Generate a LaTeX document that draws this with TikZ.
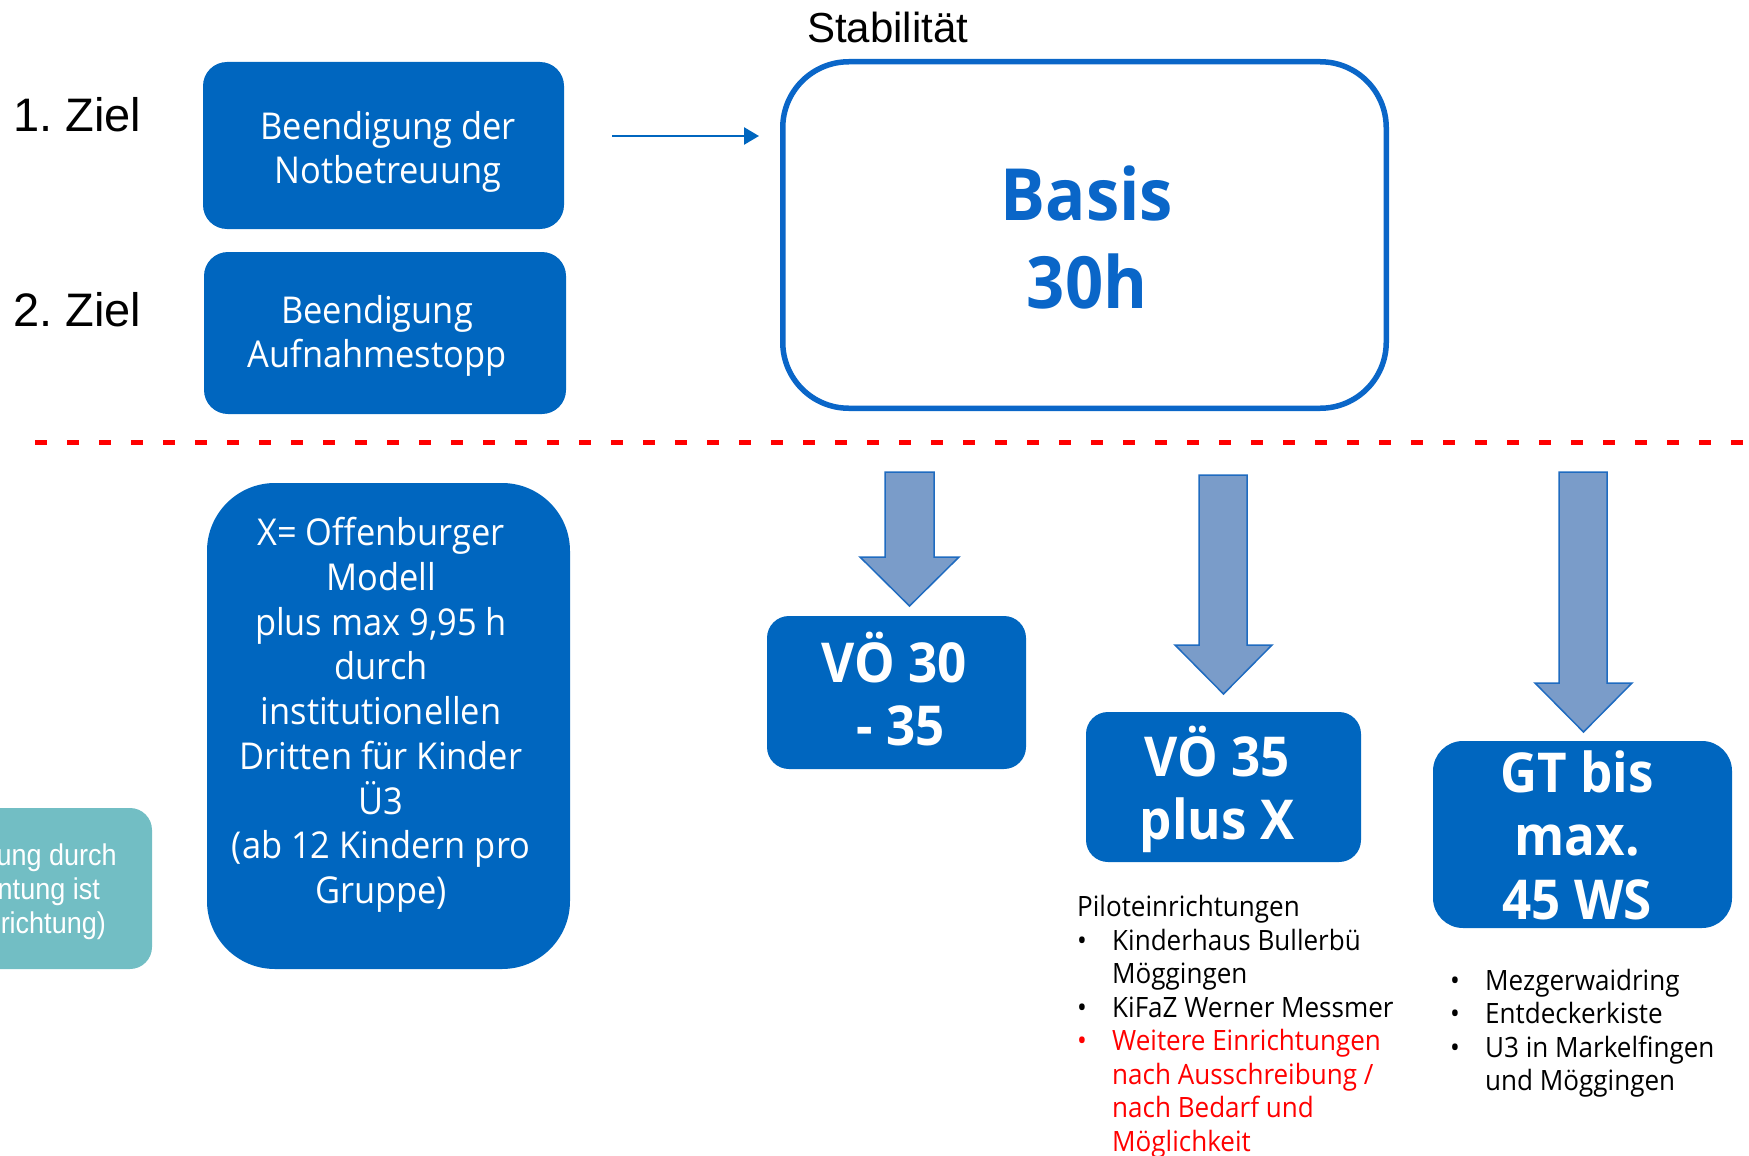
\documentclass[tikz,border=0pt]{standalone}
\usepackage{fontspec}
\setmainfont{Open Sans}[FakeStretch=0.93]
\newfontfamily\arialf{Liberation Sans}
\newfontfamily\arialn{Liberation Sans}[FakeStretch=0.9]
\usetikzlibrary{arrows.meta}
\definecolor{boxblue}{HTML}{0066BF}
\definecolor{titleblue}{HTML}{0A66C8}
\definecolor{arrowfill}{HTML}{7A9CC9}
\definecolor{arrowline}{HTML}{1F6BC0}
\definecolor{tealbox}{HTML}{72BEC4}
\definecolor{dashred}{HTML}{FF0000}
\frenchspacing
\begin{document}
\begin{tikzpicture}[x=1pt,y=-1pt,
  bluebox/.style={fill=boxblue, draw=none, inner sep=0pt},
  whitetext/.style={text=white, align=center, inner sep=0pt},
  boxtext/.style={whitetext, font=\fontsize{37}{44}\selectfont},
  bigtext/.style={whitetext, font=\bfseries\fontsize{55}{63}\selectfont},
  zlabel/.style={font=\arialf\fontsize{47}{56}\selectfont, inner sep=0pt, anchor=west},
  tealtext/.style={font=\arialn\fontsize{30}{35}\selectfont, text=white, inner sep=0pt, anchor=base east},
  blockarrow/.style={fill=arrowfill, draw=arrowline, line width=1.5pt, line join=miter},
  listtext/.style={font=\fontsize{28}{33.5}\selectfont, align=left, inner sep=0pt, anchor=north west},
]
\useasboundingbox (0,0) rectangle (1749,1156);
\clip (0,0) rectangle (1749,1156);

% left labels
\node[zlabel] (ziel1) at (13,115) {1. Ziel};
\node[zlabel] (ziel2) at (13,310) {2. Ziel};
\node[font=\arialf\fontsize{42}{50}\selectfont, inner sep=0pt, anchor=west] (stab) at (807,27) {Stabilität};

% top boxes
\node[bluebox, minimum width=361pt, minimum height=167pt, rounded corners=24pt] (b1) at (383.5,145.5) {};
\node[boxtext] (b1t) at (388,152) {Beendigung der\\Notbetreuung};
\node[bluebox, minimum width=362pt, minimum height=162pt, rounded corners=24pt] (b2) at (385,333) {};
\node[boxtext] (b2t) at (377,336) {Beendigung\\Aufnahmestopp};

% arrow to Basis
\coordinate (as) at (612,136);
\coordinate (ae) at (759,136);
\draw[boxblue, line width=2.5pt, -{Triangle[length=15pt,width=17pt]}] (as) -- (ae);

% Basis box
\node[draw=titleblue, line width=5.5pt, rounded corners=66pt, minimum width=603.5pt, minimum height=346.5pt, inner sep=0pt] (basis) at (1084.5,235) {};
\node[font=\bfseries\fontsize{72}{88}\selectfont, text=titleblue, align=center, inner sep=0pt] (basist) at (1087,237) {Basis\\30h};

% red dashed separator
\coordinate (dl) at (35,442.5);
\coordinate (dr) at (1749,442.5);
\draw[dashred, line width=5pt, dash pattern=on 12.3pt off 19.7pt] (dl) -- (dr);

% teal box (cut at left edge)
\node[fill=tealbox, draw=none, rounded corners=22pt, minimum width=252pt, minimum height=161pt, inner sep=0pt] (teal) at (26,888.5) {};
\node[tealtext] (t1) at (117,865) {ung durch};
\node[tealtext] (t2) at (100,899) {ntung ist};
\node[tealtext] (t3) at (106,933) {richtung)};

% X box
\node[bluebox, minimum width=363pt, minimum height=486pt, rounded corners=68pt] (bx) at (388.5,726) {};
\node[whitetext, font=\fontsize{37}{44.75}\selectfont] (bxt) at (381,715) {X= Offenburger\\Modell\\plus max 9,95 h\\durch\\institutionellen\\Dritten für Kinder\\Ü3\\(ab 12 Kindern pro\\Gruppe)};

% down arrows
\draw[blockarrow] (885,472) -- (934,472) -- (934,557) -- (959,557) -- (909.5,606) -- (860,557) -- (885,557) -- cycle;
\draw[blockarrow] (1199,475) -- (1247,475) -- (1247,645) -- (1272,645) -- (1223.5,694) -- (1175,645) -- (1199,645) -- cycle;
\draw[blockarrow] (1559,472) -- (1607,472) -- (1607,683) -- (1632,683) -- (1583.5,732) -- (1535,683) -- (1559,683) -- cycle;

% result boxes
\node[bluebox, minimum width=259pt, minimum height=153pt, rounded corners=22pt] (v1) at (896.5,692.5) {};
\node[bigtext] (v1t) at (894,689) {VÖ 30\\\hspace*{14pt}- 35};
\node[bluebox, minimum width=275pt, minimum height=150pt, rounded corners=22pt] (v2) at (1223.5,787) {};
\node[bigtext] (v2t) at (1217,789) {VÖ 35\\plus X};
\node[bluebox, minimum width=299pt, minimum height=187pt, rounded corners=30pt] (gt) at (1582.5,834.5) {};
\node[whitetext, font=\bfseries\fontsize{55}{63.5}\selectfont] (gtt) at (1577,835) {GT bis\\max.\\45 WS};

% lists
\node[listtext] (pl) at (1077,895.5) {Piloteinrichtungen\\
\makebox[35pt][l]{\textbullet}Kinderhaus Bullerbü\\
\hspace*{35pt}Möggingen\\
\makebox[35pt][l]{\textbullet}KiFaZ Werner Messmer\\
{\color{dashred}\makebox[35pt][l]{\textbullet}Weitere Einrichtungen}\\
{\color{dashred}\hspace*{35pt}nach Ausschreibung /}\\
{\color{dashred}\hspace*{35pt}nach Bedarf und}\\
{\color{dashred}\hspace*{35pt}Möglichkeit}};
\node[listtext] (gl) at (1450,968.7) {\makebox[35pt][l]{\textbullet}Mezgerwaidring\\
\makebox[35pt][l]{\textbullet}Entdeckerkiste\\
\makebox[35pt][l]{\textbullet}U3 in Markelfingen\\
\hspace*{35pt}und Möggingen};
\end{tikzpicture}
\end{document}
